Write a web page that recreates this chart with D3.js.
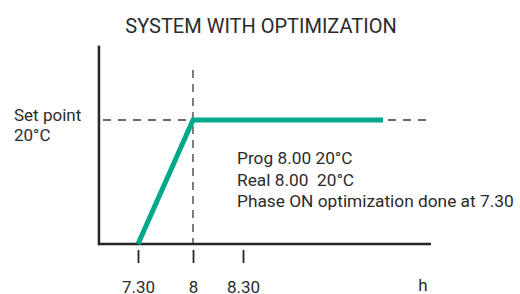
<!DOCTYPE html>
<html>
<head>
<meta charset="utf-8">
<script src="https://cdn.jsdelivr.net/npm/d3@7"></script>
<style>
  html, body { margin: 0; padding: 0; background: #fff; }
  svg { display: block; }
  text { font-family: Roboto, "Noto Sans", sans-serif; fill: #2b2b2b; white-space: pre; }
</style>
</head>
<body>
<svg id="chart" width="520" height="294"></svg>
<script>
// ---- data ----
const chartTitle = "SYSTEM WITH OPTIMIZATION";
const tickHours = [7.5, 8, 8.5];
const tickLabels = ["7.30", "8", "8.30"];
const profileHours = [7.5, 8, 9.9];
const profileTemp = [0, 20, 20];
const setPointTemp = 20;
const setPointLabel = ["Set point", "20°C"];
const programHour = 8;
const annotationLines = ["Prog 8.00 20°C", "Real 8.00  20°C", "Phase ON optimization done at 7.30"];
const xAxisLabel = "h";
const xExtent = [7.145, 10.38];
const yExtent = [0, 32];

// ---- scales ----
const x = d3.scaleLinear().domain([7.5, 8, 8.5]).range([138, 193, 243]);
const y = d3.scaleLinear().domain([0, 20]).range([244, 120]);

const svg = d3.select("#chart");
const dark = "#262626";
const green = "#00a88a";

// title
svg.append("text").attr("x", 261).attr("y", 33)
  .attr("text-anchor", "middle").attr("font-size", 20).text(chartTitle);

// dashed reference lines
svg.append("line")
  .attr("x1", x(xExtent[0])).attr("x2", x(xExtent[1]))
  .attr("y1", y(setPointTemp)).attr("y2", y(setPointTemp))
  .attr("stroke", "#3a3a3a").attr("stroke-width", 1.3).attr("stroke-dasharray", "8,7")
  .attr("stroke-dashoffset", -4);
svg.append("line")
  .attr("x1", x(programHour)).attr("x2", x(programHour))
  .attr("y1", 70).attr("y2", y(0))
  .attr("stroke", "#3a3a3a").attr("stroke-width", 1.3).attr("stroke-dasharray", "8,6");

// axes lines
svg.append("line")
  .attr("x1", x(xExtent[0])).attr("x2", x(xExtent[1]))
  .attr("y1", y(0)).attr("y2", y(0))
  .attr("stroke", dark).attr("stroke-width", 2.5);
svg.append("line")
  .attr("x1", x(xExtent[0])).attr("x2", x(xExtent[0]))
  .attr("y1", y(yExtent[1])).attr("y2", y(0) + 1.25)
  .attr("stroke", dark).attr("stroke-width", 2.5);

// x ticks (offset below the axis)
const axisG = svg.append("g").attr("transform", "translate(0,250)")
  .call(d3.axisBottom(x).tickValues(tickHours)
    .tickFormat((d, i) => tickLabels[i]).tickSizeOuter(0).tickSizeInner(13));
axisG.select(".domain").remove();
axisG.selectAll(".tick line").attr("stroke", dark).attr("stroke-width", 1.8);
axisG.selectAll(".tick text").attr("y", 42.5).attr("dy", 0)
  .attr("font-size", 17).attr("font-family", "Roboto, sans-serif").attr("fill", "#2b2b2b");

svg.append("text").attr("x", 423).attr("y", 291).attr("text-anchor", "middle")
  .attr("font-size", 17).text(xAxisLabel);

// profile line
const line = d3.line().x((d, i) => x(profileHours[i])).y((d, i) => y(profileTemp[i]));
svg.append("path").datum(profileHours).attr("d", line)
  .attr("fill", "none").attr("stroke", green).attr("stroke-width", 5)
  .attr("stroke-linejoin", "miter");

// set point label
svg.append("g").selectAll("text").data(setPointLabel).join("text")
  .attr("x", 14).attr("y", (d, i) => 121 + i * 20)
  .attr("font-size", 17).text(d => d);

// annotations
svg.append("g").selectAll("text").data(annotationLines).join("text")
  .attr("x", 237).attr("y", (d, i) => 164 + i * 21.5)
  .attr("font-size", 17.3).text(d => d);
</script>
</body>
</html>
